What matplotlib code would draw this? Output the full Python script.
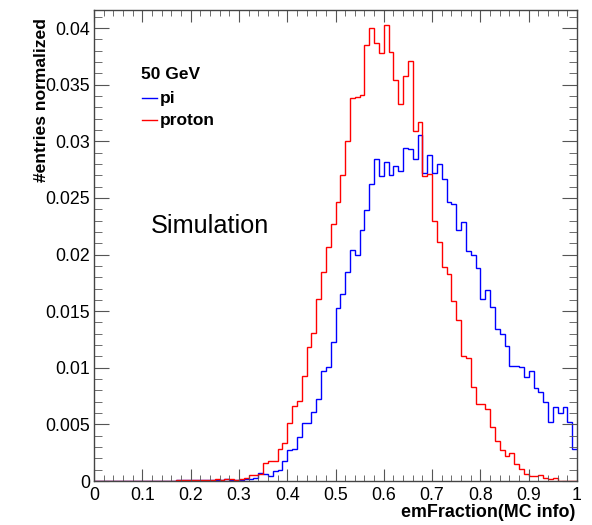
import numpy as np
import matplotlib
matplotlib.use("Agg")
import matplotlib.pyplot as plt
from matplotlib.ticker import MultipleLocator, FormatStrFormatter

plt.rcParams['font.family'] = ['Liberation Sans', 'DejaVu Sans']

# 100 bins on [0, 1]
bin_lo = 0.0
bin_hi = 1.0
n_bins = 100

pi_vals = [
    0, 0, 0, 0, 0, 0, 0, 0, 0, 0,
    0, 0, 0, 0, 0, 0, 0, 0.0001, 0.0001, 0.00005,
    0.0001, 0.0001, 0.0001, 0.00005, 0.0001, 0.0001, 0.0001, 0.00015, 0.0001, 0.0001,
    0.0001, 0.00015, 0.0002, 0.0003, 0.0007, 0.0006, 0.0004, 0.0009, 0.0010, 0.0018,
    0.0027, 0.0028, 0.0039, 0.0051, 0.0051, 0.0061, 0.0072, 0.0097, 0.0101, 0.0123,
    0.0153, 0.0165, 0.0185, 0.0204, 0.0200, 0.0222, 0.0239, 0.0262, 0.0284, 0.0269,
    0.0282, 0.0270, 0.0278, 0.0274, 0.0294, 0.0293, 0.0284, 0.0306, 0.0272, 0.0288,
    0.0272, 0.0280, 0.0267, 0.0246, 0.0245, 0.0222, 0.0229, 0.0203, 0.0200, 0.0188,
    0.0161, 0.0169, 0.0154, 0.0134, 0.0130, 0.0119, 0.0102, 0.0102, 0.0101, 0.0092,
    0.0097, 0.0082, 0.0079, 0.0070, 0.0052, 0.0065, 0.0060, 0.0065, 0.0052, 0.0028,
]

proton_vals = [
    0, 0, 0, 0, 0, 0, 0, 0, 0, 0,
    0, 0, 0, 0, 0, 0, 0, 0.00005, 0.0001, 0.0001,
    0.0001, 0.0001, 0.00005, 0.0001, 0.0001, 0.00015, 0.0001, 0.0002, 0.0002, 0.0001,
    0.0002, 0.0003, 0.0005, 0.0005, 0.0006, 0.0016, 0.0018, 0.0018, 0.0028, 0.0034,
    0.0051, 0.0066, 0.0071, 0.0093, 0.0118, 0.0131, 0.0161, 0.0185, 0.0207, 0.0227,
    0.0246, 0.0270, 0.0300, 0.0338, 0.0339, 0.0341, 0.0385, 0.0400, 0.0387, 0.0378,
    0.0403, 0.0379, 0.0354, 0.0333, 0.0358, 0.0371, 0.0309, 0.0317, 0.0269, 0.0271,
    0.0230, 0.0211, 0.0189, 0.0183, 0.0159, 0.0142, 0.0110, 0.0109, 0.0083, 0.0068,
    0.0068, 0.0064, 0.0048, 0.0035, 0.0027, 0.0022, 0.0025, 0.0015, 0.0011, 0.0006,
    0.0004, 0.0004, 0.0005, 0.0003, 0.0002, 0.0003, 0, 0, 0, 0,
]

edges = np.linspace(bin_lo, bin_hi, n_bins + 1)

fig = plt.figure(figsize=(5.92, 5.25), dpi=100)
ax = fig.add_axes([94 / 592, 44 / 525, 483 / 592, 471 / 525])

ax.stairs(pi_vals, edges, baseline=None, color='#0000ff', lw=1.0)
ax.stairs(proton_vals, edges, baseline=None, color='#ff0000', lw=1.0)

ax.set_xlim(0, 1)
ax.set_ylim(0, 0.0416)

ax.xaxis.set_major_locator(MultipleLocator(0.1))
ax.xaxis.set_minor_locator(MultipleLocator(0.02))
ax.yaxis.set_major_locator(MultipleLocator(0.005))
ax.yaxis.set_minor_locator(MultipleLocator(0.001))
ax.xaxis.set_major_formatter(FormatStrFormatter('%g'))
ax.yaxis.set_major_formatter(FormatStrFormatter('%g'))

tick_col = '#555555'
ax.tick_params(axis='both', which='both', direction='in', top=True, right=True,
               color=tick_col, labelsize=12.8)
ax.tick_params(axis='x', which='major', length=8.5, pad=4.5)
ax.tick_params(axis='x', which='minor', length=4.5)
ax.tick_params(axis='y', which='major', length=10.5, pad=3)
ax.tick_params(axis='y', which='minor', length=5.5)
for s in ax.spines.values():
    s.set_color('#444444')
    s.set_linewidth(1.0)

fig.text(575 / 592, 1 - 517 / 525, 'emFraction(MC info)', ha='right', va='baseline',
         fontsize=12.9, fontweight='bold')
fig.text(42 / 592, 1 - 18 / 525, '#entries normalized', ha='center', va='top',
         rotation=90, fontsize=12.6, fontweight='bold')

# legend block
ax.text(141 / 592, 1 - 75 / 525, '50 GeV', transform=fig.transFigure,
        ha='left', va='center', fontsize=12.5, fontweight='bold')
ax.plot([142 / 592, 157 / 592], [1 - 98 / 525] * 2, transform=fig.transFigure,
        color='#0000ff', lw=1.0, clip_on=False)
ax.text(160 / 592, 1 - 98 / 525, 'pi', transform=fig.transFigure,
        ha='left', va='center', fontsize=12.5, fontweight='bold')
ax.plot([142 / 592, 157 / 592], [1 - 120 / 525] * 2, transform=fig.transFigure,
        color='#ff0000', lw=1.0, clip_on=False)
ax.text(160 / 592, 1 - 120 / 525, 'proton', transform=fig.transFigure,
        ha='left', va='center', fontsize=12.5, fontweight='bold')

ax.text(151 / 592, 1 - 233 / 525, 'Simulation', transform=fig.transFigure,
        ha='left', va='baseline', fontsize=18.2)

fig.savefig('out.png', dpi=100)
